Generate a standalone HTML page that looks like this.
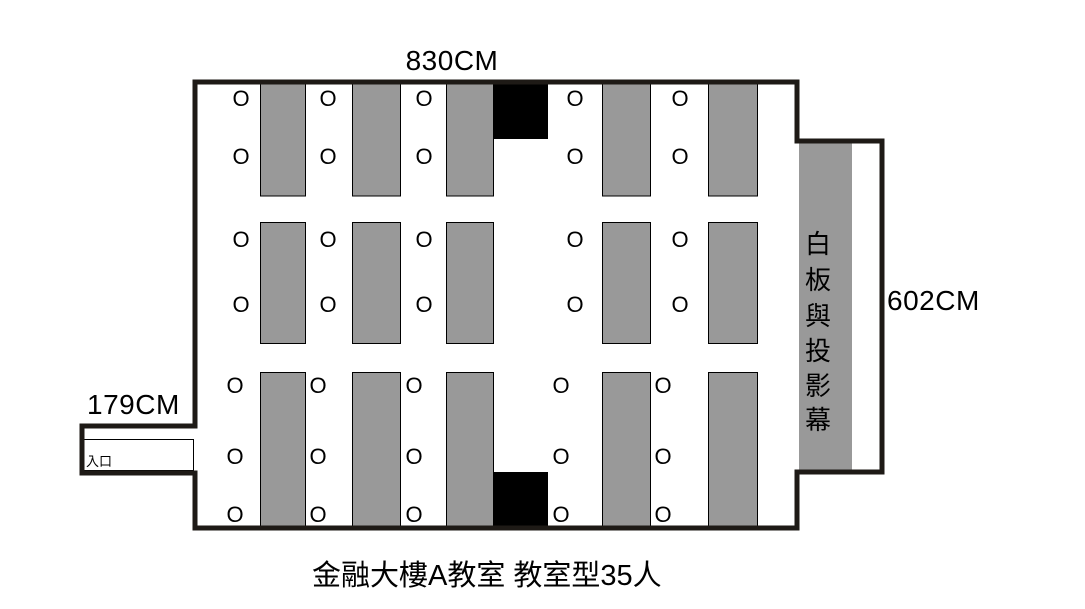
<!DOCTYPE html>
<html><head><meta charset="utf-8"><style>
html,body{margin:0;padding:0;background:#fff;}
svg{display:block;}
text{font-family:"Liberation Sans","Noto Sans CJK TC",sans-serif;fill:#000;}
</style></head><body>
<svg width="1085" height="609" viewBox="0 0 1085 609" xmlns="http://www.w3.org/2000/svg">
<rect x="0" y="0" width="1085" height="609" fill="#fff"/>
<rect x="799" y="142" width="53" height="329" fill="#999"/>
<g fill="#999" stroke="#000" stroke-width="1">
<rect x="260.5" y="83" width="45" height="113"/>
<rect x="352.5" y="83" width="48" height="113"/>
<rect x="446.5" y="83" width="47" height="113"/>
<rect x="602.5" y="83" width="48" height="113"/>
<rect x="708.5" y="83" width="49" height="113"/>
<rect x="260.5" y="222.5" width="45" height="121"/>
<rect x="352.5" y="222.5" width="48" height="121"/>
<rect x="446.5" y="222.5" width="47" height="121"/>
<rect x="602.5" y="222.5" width="48" height="121"/>
<rect x="708.5" y="222.5" width="49" height="121"/>
<rect x="260.5" y="372.5" width="45" height="156"/>
<rect x="352.5" y="372.5" width="48" height="156"/>
<rect x="446.5" y="372.5" width="47" height="156"/>
<rect x="602.5" y="372.5" width="48" height="156"/>
<rect x="708.5" y="372.5" width="49" height="156"/>
</g>
<rect x="493" y="83" width="55" height="56" fill="#000"/>
<rect x="493" y="472" width="55" height="56" fill="#000"/>
<rect x="83.5" y="439.5" width="110" height="31" fill="none" stroke="#000" stroke-width="1"/>
<path d="M195 82 H797 V141 H882 V472 H797 V528 H195 V473 H82 V426 H195 Z" fill="none" stroke="#1e1a16" stroke-width="5" stroke-linejoin="miter"/>
<g font-size="22" text-anchor="middle">
<text x="241" y="106">O</text><text x="328" y="106">O</text><text x="424" y="106">O</text><text x="575" y="106">O</text><text x="680" y="106">O</text>
<text x="241" y="164">O</text><text x="328" y="164">O</text><text x="424" y="164">O</text><text x="575" y="164">O</text><text x="680" y="164">O</text>
<text x="241" y="247">O</text><text x="328" y="247">O</text><text x="424" y="247">O</text><text x="575" y="247">O</text><text x="680" y="247">O</text>
<text x="241" y="312">O</text><text x="328" y="312">O</text><text x="424" y="312">O</text><text x="575" y="312">O</text><text x="680" y="312">O</text>
<text x="235" y="393">O</text><text x="318" y="393">O</text><text x="414" y="393">O</text><text x="561" y="393">O</text><text x="663" y="393">O</text>
<text x="235" y="464">O</text><text x="318" y="464">O</text><text x="414" y="464">O</text><text x="561" y="464">O</text><text x="663" y="464">O</text>
<text x="235" y="522">O</text><text x="318" y="522">O</text><text x="414" y="522">O</text><text x="561" y="522">O</text><text x="663" y="522">O</text>
</g>
<g font-size="26" text-anchor="middle">
<text x="818" y="253">白</text><text x="818" y="289">板</text><text x="818" y="325">與</text><text x="818" y="360">投</text><text x="818" y="395">影</text><text x="818" y="429">幕</text>
</g>
<text x="452" y="70" font-size="28" text-anchor="middle" letter-spacing="0.5">830CM</text>
<text x="887" y="310" font-size="28" letter-spacing="0.5">602CM</text>
<text x="87" y="414" font-size="28" letter-spacing="0.5">179CM</text>
<text x="86" y="466" font-size="13">入口</text>
<text x="312" y="585" font-size="29">金融大樓A教室 教室型35人</text>
</svg>
</body></html>
